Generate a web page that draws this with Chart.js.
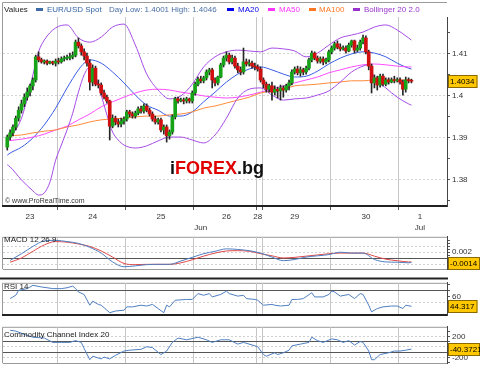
<!DOCTYPE html>
<html><head><meta charset="utf-8">
<script src="https://cdn.jsdelivr.net/npm/chart.js@4.4.1/dist/chart.umd.min.js"></script>
<style>
html,body{margin:0;padding:0;background:#fff}
body{position:relative;width:480px;height:370px;overflow:hidden;font-family:"Liberation Sans",Arial,sans-serif}
canvas{position:absolute;left:0}
.t{position:absolute;font-size:8px;line-height:9px;white-space:nowrap;color:#222}
.m{position:absolute;width:7px;height:3px;top:8px}
#wm{position:absolute;left:170px;top:158px;font-weight:bold;font-size:18px;line-height:20px;white-space:nowrap;color:#111}
#wm span{color:#e00000}
</style></head><body>
<canvas id="cMain" width="480" height="232" style="top:0"></canvas>
<canvas id="cMacd" width="480" height="46" style="top:230px"></canvas>
<canvas id="cRsi" width="480" height="46" style="top:276px"></canvas>
<canvas id="cCci" width="480" height="50" style="top:320px"></canvas>

<div class="t" style="left:4px;top:5px">Values</div>
<div class="m" style="left:36px;background:#3d6aa8"></div>
<div class="t" style="left:47px;top:5px;color:#3364a6">EUR/USD Spot</div>
<div class="t" style="left:109px;top:5px;color:#4a6ea6">Day Low: 1.4001 High: 1.4046</div>
<div class="m" style="left:227px;background:#0000ee"></div>
<div class="t" style="left:238px;top:5px;color:#0000ee">MA20</div>
<div class="m" style="left:268px;background:#ff33ff"></div>
<div class="t" style="left:279px;top:5px;color:#ff33ff">MA50</div>
<div class="m" style="left:309px;background:#ff7722"></div>
<div class="t" style="left:319px;top:5px;color:#ff7722">MA100</div>
<div class="m" style="left:353px;background:#9933cc"></div>
<div class="t" style="left:364px;top:5px;color:#9933cc">Bollinger 20 2.0</div>
<div id="wm">i<span>FOREX</span>.bg</div>
<div class="t" style="left:5px;top:197px;font-size:7px;line-height:8px;color:#333">© www.ProRealTime.com</div>
<div class="t" style="left:4px;top:235px">MACD 12 26 9</div>
<div class="t" style="left:4px;top:282px">RSI 14</div>
<div class="t" style="left:4px;top:330px">Commodity Channel Index 20</div>

<script>
// ---------- categories (hourly slots) ----------
const dayNames=['23','24','25','26','28','29','30','1'];
const dayFirstHour=[5,0,0,0,22,0,0,0];
const dayHourCount=[19,24,24,22,2,24,24,17];
const xTickSlots=[9,31,55,78,89,102,127,146];
const monthSlots=[69,146];
const monthNames=['Jun','Jul'];

// ---------- candles (first bar = 23 06:00) ----------
const firstCandleSlot=1;
const open=[1.3877,1.3901,1.3911,1.3925,1.3946,1.3965,1.3980,1.3996,1.4008,1.4023,
1.4037,1.4092,1.4085,1.4080,1.4082,1.4077,1.4080,1.4077,1.4082,1.4080,
1.4087,1.4089,1.4089,1.4092,1.4096,1.4127,1.4118,1.4104,1.4094,1.4077,
1.4032,1.4065,1.4027,1.4025,1.4006,1.3996,1.3987,1.3927,1.3946,1.3937,
1.3932,1.3939,1.3944,1.3961,1.3956,1.3951,1.3958,1.3968,1.3963,1.3975,
1.3965,1.3956,1.3944,1.3937,1.3942,1.3918,1.3925,1.3904,1.3913,1.3949,
1.3992,1.3987,1.3989,1.3987,1.3992,1.3987,1.4006,1.4027,1.4039,1.4035,
1.4042,1.4056,1.4061,1.4037,1.4030,1.4044,1.4073,1.4089,1.4096,1.4080,
1.4089,1.4070,1.4061,1.4056,1.4080,1.4075,1.4077,1.4070,1.4068,1.4063,
1.4037,1.4027,1.4015,1.4023,1.4008,1.4015,1.4011,1.4018,1.4013,1.4023,
1.4030,1.4056,1.4063,1.4054,1.4061,1.4056,1.4065,1.4085,1.4101,1.4089,
1.4082,1.4087,1.4080,1.4085,1.4104,1.4113,1.4123,1.4115,1.4111,1.4113,
1.4106,1.4120,1.4130,1.4108,1.4113,1.4127,1.4137,1.4104,1.4070,1.4030,
1.4042,1.4025,1.4046,1.4027,1.4037,1.4032,1.4037,1.4035,1.4037,1.4032,
1.4015,1.4037,1.4035];
const high=[1.3906,1.3918,1.3930,1.3951,1.3973,1.3989,1.4004,1.4018,1.4027,1.4042,
1.4096,1.4104,1.4089,1.4085,1.4085,1.4082,1.4082,1.4087,1.4089,1.4092,
1.4094,1.4096,1.4101,1.4104,1.4132,1.4137,1.4123,1.4111,1.4101,1.4085,
1.4073,1.4070,1.4037,1.4030,1.4013,1.4001,1.3989,1.3954,1.3951,1.3944,
1.3946,1.3949,1.3965,1.3965,1.3961,1.3963,1.3973,1.3975,1.3980,1.3980,
1.3970,1.3961,1.3951,1.3946,1.3946,1.3930,1.3930,1.3918,1.3954,1.3996,
1.3996,1.3994,1.3994,1.3996,1.3994,1.4011,1.4032,1.4044,1.4046,1.4046,
1.4061,1.4065,1.4065,1.4042,1.4046,1.4077,1.4094,1.4104,1.4101,1.4096,
1.4094,1.4077,1.4068,1.4113,1.4087,1.4085,1.4082,1.4077,1.4073,1.4068,
1.4042,1.4032,1.4027,1.4032,1.4023,1.4020,1.4025,1.4023,1.4027,1.4037,
1.4061,1.4068,1.4070,1.4068,1.4065,1.4070,1.4089,1.4106,1.4104,1.4094,
1.4092,1.4092,1.4089,1.4108,1.4118,1.4127,1.4130,1.4123,1.4118,1.4118,
1.4125,1.4132,1.4132,1.4120,1.4132,1.4144,1.4142,1.4108,1.4075,1.4049,
1.4046,1.4051,1.4051,1.4042,1.4042,1.4042,1.4046,1.4042,1.4042,1.4037,
1.4044,1.4042,1.4039];
const low=[1.3870,1.3894,1.3904,1.3918,1.3939,1.3958,1.3973,1.3989,1.3999,1.4013,
1.4032,1.4080,1.4077,1.4075,1.4073,1.4075,1.4073,1.4070,1.4075,1.4077,
1.4082,1.4085,1.4085,1.4087,1.4092,1.4113,1.4096,1.4085,1.4070,1.4013,
1.4023,1.4023,1.4018,1.4001,1.3992,1.3982,1.3894,1.3923,1.3930,1.3925,
1.3925,1.3932,1.3939,1.3949,1.3946,1.3946,1.3954,1.3958,1.3958,1.3961,
1.3951,1.3939,1.3932,1.3932,1.3913,1.3908,1.3889,1.3896,1.3908,1.3944,
1.3982,1.3985,1.3980,1.3982,1.3982,1.3982,1.4001,1.4023,1.4030,1.4030,
1.4037,1.4049,1.4018,1.4023,1.4025,1.4042,1.4068,1.4082,1.4075,1.4075,
1.4065,1.4054,1.4049,1.4051,1.4070,1.4070,1.4065,1.4061,1.4058,1.4032,
1.4018,1.4008,1.4008,1.3989,1.4001,1.3994,1.3989,1.3996,1.4008,1.4013,
1.4025,1.4051,1.4049,1.4046,1.4049,1.4051,1.4061,1.4080,1.4085,1.4077,
1.4077,1.4073,1.4075,1.4080,1.4099,1.4108,1.4111,1.4106,1.4108,1.4101,
1.4104,1.4115,1.4101,1.4104,1.4108,1.4123,1.4099,1.4061,1.4006,1.4018,
1.4013,1.4020,1.4023,1.4023,1.4027,1.4030,1.4030,1.4032,1.4027,1.4001,
1.4008,1.4030,1.4030];
const close=[1.3901,1.3911,1.3925,1.3946,1.3965,1.3980,1.3996,1.4008,1.4023,1.4037,
1.4092,1.4085,1.4080,1.4082,1.4077,1.4080,1.4077,1.4082,1.4080,1.4087,
1.4089,1.4090,1.4092,1.4096,1.4127,1.4118,1.4104,1.4094,1.4077,1.4032,
1.4065,1.4027,1.4025,1.4006,1.3996,1.3987,1.3927,1.3946,1.3937,1.3932,
1.3939,1.3944,1.3961,1.3956,1.3951,1.3958,1.3968,1.3963,1.3975,1.3965,
1.3956,1.3944,1.3937,1.3942,1.3918,1.3925,1.3904,1.3913,1.3949,1.3992,
1.3987,1.3989,1.3987,1.3992,1.3987,1.4006,1.4027,1.4039,1.4035,1.4042,
1.4056,1.4061,1.4037,1.4030,1.4044,1.4073,1.4089,1.4096,1.4080,1.4089,
1.4070,1.4061,1.4056,1.4080,1.4075,1.4077,1.4070,1.4068,1.4063,1.4037,
1.4027,1.4015,1.4023,1.4008,1.4015,1.4011,1.4018,1.4013,1.4023,1.4030,
1.4056,1.4063,1.4054,1.4061,1.4056,1.4065,1.4085,1.4101,1.4089,1.4082,
1.4087,1.4080,1.4085,1.4104,1.4113,1.4123,1.4115,1.4111,1.4113,1.4106,
1.4120,1.4130,1.4108,1.4113,1.4127,1.4137,1.4104,1.4070,1.4030,1.4042,
1.4025,1.4046,1.4027,1.4037,1.4032,1.4037,1.4035,1.4037,1.4032,1.4015,
1.4037,1.4035,1.4034];

// ---------- overlays (read at sampled slots) ----------
const ma20Slots=[1,2,6,10,14,18,22,26,28,30,34,38,42,46,50,54,58,62,66,70,74,78,82,86,90,94,98,102,106,110,114,118,122,126,130,134,138,142,143];
const ma20Vals=[1.3858,1.3863,1.3877,1.3899,1.3930,1.3970,1.4018,1.4061,1.4077,1.4085,1.4077,1.4056,1.4030,1.4001,1.3977,1.3965,1.3951,1.3951,1.3961,1.3985,1.4008,1.4032,1.4051,1.4063,1.4068,1.4061,1.4051,1.4044,1.4046,1.4058,1.4075,1.4089,1.4099,1.4104,1.4101,1.4092,1.4077,1.4065,1.4063];
const maSlots=[1,6,10,14,18,22,26,30,34,38,42,46,50,54,58,62,66,70,74,78,82,86,90,94,98,102,106,110,114,118,122,126,130,134,138,142,143];
const ma50Vals=[1.3892,1.3896,1.3901,1.3908,1.3918,1.3927,1.3942,1.3956,1.3973,1.3985,1.3996,1.4006,1.4013,1.4015,1.4013,1.4008,1.4004,1.3999,1.3996,1.3994,1.3996,1.4001,1.4008,1.4015,1.4023,1.4030,1.4037,1.4044,1.4054,1.4061,1.4068,1.4073,1.4075,1.4073,1.4070,1.4068,1.4068];
const ma100Vals=[1.3904,1.3906,1.3911,1.3915,1.3918,1.3925,1.3930,1.3937,1.3942,1.3944,1.3946,1.3949,1.3951,1.3951,1.3954,1.3956,1.3961,1.3970,1.3975,1.3982,1.3989,1.3996,1.4006,1.4011,1.4015,1.4023,1.4025,1.4027,1.4030,1.4032,1.4035,1.4035,1.4037,1.4037,1.4037,1.4037,1.4037];
const bbUpSlots=[1,2,6,10,12,14,18,22,26,30,34,38,42,46,50,54,58,62,66,70,74,78,82,86,90,94,98,102,106,110,114,118,122,126,130,134,138,142,143];
const bbUpVals=[1.3894,1.3901,1.3946,1.4049,1.4104,1.4132,1.4161,1.4168,1.4137,1.4127,1.4139,1.4163,1.4170,1.4120,1.4051,1.4013,1.3992,1.3999,1.4027,1.4068,1.4092,1.4104,1.4108,1.4106,1.4104,1.4113,1.4111,1.4106,1.4092,1.4101,1.4120,1.4137,1.4144,1.4151,1.4163,1.4168,1.4156,1.4137,1.4132];
const bbLoSlots=[1,2,6,10,12,14,16,18,20,22,24,26,28,30,32,34,36,38,40,42,46,50,54,58,62,66,70,74,78,82,86,90,94,98,102,106,110,114,118,122,126,128,130,134,138,142,143];
const bbLoVals=[1.3835,1.3830,1.3799,1.3773,1.3763,1.3768,1.3794,1.3846,1.3882,1.3918,1.3958,1.4008,1.4049,1.4068,1.4046,1.4001,1.3954,1.3913,1.3894,1.3882,1.3875,1.3880,1.3892,1.3901,1.3901,1.3894,1.3887,1.3906,1.3946,1.3994,1.4015,1.4018,1.4001,1.3989,1.3992,1.3994,1.4001,1.4011,1.4032,1.4056,1.4070,1.4073,1.4042,1.4018,1.3996,1.3980,1.3977];

// ---------- MACD ----------
const macdSlots=[2,6,10,14,18,22,26,30,34,38,42,46,50,54,58,62,66,70,74,78,82,86,90,94,98,102,106,110,114,118,122,126,130,134,138,142,143];
const macdVals=[-0.0007,0.0015,0.0039,0.0057,0.0059,0.0055,0.0049,0.0036,0.0017,-0.0012,-0.0028,-0.0025,-0.0021,-0.0020,-0.0020,-0.0009,0.0003,0.0015,0.0023,0.0031,0.0029,0.0025,0.0017,0.0004,-0.0008,-0.0004,0.0004,0.0008,0.0012,0.0020,0.0017,0.0017,-0.0004,-0.0012,-0.0013,-0.0015,-0.0014];
const signalVals=[-0.0013,0.0001,0.0023,0.0044,0.0055,0.0053,0.0047,0.0039,0.0024,0.0004,-0.0017,-0.0021,-0.0020,-0.0020,-0.0020,-0.0015,-0.0005,0.0007,0.0017,0.0024,0.0025,0.0023,0.0015,0.0008,0.0001,0.0003,0.0007,0.0011,0.0015,0.0017,0.0017,0.0017,0.0007,-0.0003,-0.0008,-0.0012,-0.0012];

// ---------- RSI ----------
const rsiSlots=[2,4,5,8,10,13,15,17,20,22,24,25,26,28,30,31,33,34,35,37,39,42,43,45,48,50,52,54,56,57,58,60,64,66,68,70,72,73,76,78,79,82,84,85,88,89,91,94,95,97,100,101,103,105,108,109,112,114,115,116,118,121,123,125,126,128,129,131,133,136,138,140,141,143];
const rsiVals=[56.9,62.3,70.4,73.1,78.5,75.8,74.5,73.1,73.1,74.5,77.2,73.1,67.7,63.6,46.1,52.8,47.4,46.1,42.1,33.9,36.6,38.0,43.4,43.4,46.1,44.8,47.4,40.7,33.9,46.1,43.4,54.2,55.5,55.5,65.0,62.3,65.0,59.6,63.6,69.1,65.0,60.9,62.3,56.9,55.5,54.2,46.1,47.4,46.1,44.8,46.1,55.5,55.5,56.9,66.4,59.6,59.6,63.6,69.1,67.7,60.9,63.6,56.9,65.0,63.6,46.1,35.3,40.7,43.4,44.8,44.8,40.7,46.1,44.317];

// ---------- CCI ----------
const cciSlots=[2,4,8,10,14,17,20,23,25,27,28,30,31,34,35,37,39,42,44,48,50,52,55,57,59,61,64,68,71,73,76,79,82,84,88,89,91,92,95,96,98,100,101,104,107,108,110,112,115,117,119,121,123,125,126,128,129,130,132,135,137,139,141,143];
const cciVals=[322,305,222,188,172,88,88,88,122,88,-28,-245,-178,-228,-195,-228,-162,-78,-62,-45,5,-12,-145,-78,88,172,138,188,138,88,138,138,55,88,22,5,-145,-178,-112,-145,-112,-62,22,55,88,188,122,88,155,138,88,122,38,105,88,-78,-245,-245,-145,-112,-78,-78,-62,-40.3721];

// ---------- build ----------
const categories=[];
dayNames.forEach((d,i)=>{for(let h=0;h<dayHourCount[i];h++)categories.push(d+' '+(dayFirstHour[i]+h)+':00');});
const boundaries=[];{let c=0;dayHourCount.forEach((n,i)=>{if(i>0)boundaries.push(c);c+=n;});}
const N=categories.length;
function full(slots,vals){const a=new Array(N).fill(null);slots.forEach((s,i)=>{a[s]=vals[i];});return a;}
const cSlots=open.map((_,i)=>firstCandleSlot+i);
const wickData=full(cSlots,open.map((_,i)=>[low[i],high[i]]));
const bodyData=full(cSlots,open.map((o,i)=>[o,close[i]]));
const bodyCol=full(cSlots,open.map((o,i)=>close[i]>=o?'#17a317':'#d01010'));

const FONT='"Liberation Sans", Arial, sans-serif';
const near=(a,b)=>Math.abs(a-b)<1e-9;
const isB=c=>boundaries.includes(c.index);

const framePlugin={id:'frame',beforeDraw(chart,args,o){
  const {ctx,chartArea:a}=chart;ctx.save();ctx.strokeStyle=o.color||'#9a9a9a';ctx.lineWidth=1;
  const top=(o.top!=null?o.top:a.top+0.5);
  ctx.beginPath();ctx.moveTo(2.5,a.bottom);ctx.lineTo(2.5,top);ctx.lineTo(a.right,top);ctx.stroke();
  if(o.sep!=null){ctx.strokeStyle='#222';ctx.lineWidth=2;ctx.beginPath();ctx.moveTo(0,o.sep);ctx.lineTo(a.right+1,o.sep);ctx.stroke();}
  ctx.restore();}};
const boxPlugin={id:'vbox',afterDraw(chart,args,o){
  if(o.value==null)return;const {ctx,chartArea:a}=chart;const y=Math.round(chart.scales.y.getPixelForValue(o.value));
  ctx.save();ctx.font='8px '+FONT;const x=a.right+1;const w=Math.min(ctx.measureText(o.text).width+5,chart.width-x);
  ctx.fillStyle='#ffc800';ctx.fillRect(x,y-6,w,13);ctx.strokeStyle='#8a6a00';ctx.lineWidth=1;ctx.strokeRect(x+0.5,y-5.5,w-1,12);
  ctx.fillStyle='#000';ctx.textBaseline='middle';ctx.fillText(o.text,x+2,y+1);ctx.restore();}};

function xAxis(h,showLabels,bColor,bWidth){
  return {type:'category',offset:true,
    afterFit:s=>{s.height=h;},
    grid:{offset:true,drawTicks:showLabels,tickLength:4,lineWidth:1,
      color:c=>isB(c)?'#c6c6c6':'rgba(0,0,0,0)',tickColor:c=>isB(c)?'#555':'rgba(0,0,0,0)'},
    border:{color:bColor,width:bWidth},
    ticks:showLabels?{autoSkip:false,maxRotation:0,minRotation:0,padding:1,color:'#333',
      font:{size:8,family:FONT,lineHeight:1.4},
      callback:(v,i)=>{const d=xTickSlots.indexOf(i),m=monthSlots.indexOf(i);
        if(d<0&&m<0)return '';const a=d>=0?dayNames[d]:'';return m>=0?[a,monthNames[m]]:a;}}
      :{display:false}};
}
function yAxis(min,max,tickVals,labelFn,gridFn,dashFn){
  return {type:'linear',position:'right',min,max,
    afterBuildTicks:s=>{s.ticks=tickVals.map(v=>({value:v}));},
    afterFit:s=>{s.width=33;},
    ticks:{autoSkip:false,padding:2,color:'#333',font:{size:8,family:FONT},callback:v=>labelFn(v)},
    grid:{drawTicks:true,tickLength:3,lineWidth:1,tickColor:'#555',
      color:c=>c.tick?gridFn(c.tick.value):'rgba(0,0,0,0)'},
    border:{color:'#444',width:1,dash:c=>c.tick?dashFn(c.tick.value):[]}};
}
const lineDs=(data,color,extra)=>Object.assign({type:'line',data,borderColor:color,borderWidth:1,pointRadius:0,
  spanGaps:true,cubicInterpolationMode:'monotone',fill:false,order:5},extra||{});
const common={responsive:false,animation:false,devicePixelRatio:1,events:[],
  plugins:{legend:{display:false},tooltip:{enabled:false}}};

// ---- main price chart ----
const priceTicks=[1.375,1.38,1.385,1.39,1.395,1.40,1.405,1.41,1.415];
const isMajorP=v=>near(Math.round(v*100)/100,v);
new Chart(document.getElementById('cMain'),{type:'bar',
  data:{labels:categories,datasets:[
    lineDs(full(bbUpSlots,bbUpVals),'#a64ce6'),
    lineDs(full(bbLoSlots,bbLoVals),'#a64ce6'),
    lineDs(full(maSlots,ma100Vals),'#ff8a3a'),
    lineDs(full(maSlots,ma50Vals),'#ff4cff'),
    lineDs(full(ma20Slots,ma20Vals),'#3a5ce6'),
    {type:'bar',data:wickData,backgroundColor:'#262626',barThickness:1,grouped:false,order:1},
    {type:'bar',data:bodyData,backgroundColor:bodyCol,barThickness:3,minBarLength:1,grouped:false,order:0}
  ]},
  options:Object.assign({},common,{
    layout:{padding:{left:3,top:17,right:0,bottom:0}},
    scales:{x:xAxis(26,true,'#222',2),
      y:yAxis(1.37369,1.41869,priceTicks,v=>isMajorP(v)?String(+v.toFixed(3)):'',
        v=>isMajorP(v)?'#d4d4d4':'rgba(0,0,0,0)',v=>[2,2])},
    plugins:Object.assign({},common.plugins,{frame:{top:2.5},vbox:{value:close[close.length-1],text:close[close.length-1].toFixed(4)}})
  }),
  plugins:[framePlugin,boxPlugin]});

// ---- MACD ----
new Chart(document.getElementById('cMacd'),{type:'line',
  data:{labels:categories,datasets:[
    lineDs(full(macdSlots,signalVals),'#e04848'),
    lineDs(full(macdSlots,macdVals),'#4f7fc0',{order:4})]},
  options:Object.assign({},common,{
    layout:{padding:{left:3,top:3,right:0,bottom:0}},
    scales:{x:xAxis(3,false,'#9a9a9a',1),
      y:yAxis(-0.0036,0.00707,[-0.003,-0.002,-0.001,0,0.001,0.002,0.003,0.004,0.005,0.006],
        v=>near(v,0.002)?'0.002':'',
        v=>near(v,0)?'#555':((near(v,0.002)||near(v,-0.002)||near(v,0.004))?'#d0d0d0':'rgba(0,0,0,0)'),
        v=>near(v,0)?[]:[2,2])},
    plugins:Object.assign({},common.plugins,{frame:{},vbox:{value:macdVals[macdVals.length-1],text:macdVals[macdVals.length-1].toFixed(4)}})
  }),
  plugins:[framePlugin,boxPlugin]});

// ---- RSI ----
new Chart(document.getElementById('cRsi'),{type:'line',
  data:{labels:categories,datasets:[lineDs(full(rsiSlots,rsiVals),'#4f7fc0',{cubicInterpolationMode:'default',tension:0})]},
  options:Object.assign({},common,{
    layout:{padding:{left:3,top:5,right:0,bottom:0}},
    scales:{x:xAxis(2,false,'#222',2),
      y:yAxis(29.86,82.57,[40,50,60,70,80],v=>near(v,60)?'60':'',
        v=>near(v,70)?'#555':(near(v,50)?'#d0d0d0':'rgba(0,0,0,0)'),v=>near(v,70)?[]:[2,2])},
    plugins:Object.assign({},common.plugins,{frame:{sep:2.5},vbox:{value:rsiVals[rsiVals.length-1],text:rsiVals[rsiVals.length-1].toFixed(3)}})
  }),
  plugins:[framePlugin,boxPlugin]});

// ---- CCI ----
new Chart(document.getElementById('cCci'),{type:'line',
  data:{labels:categories,datasets:[lineDs(full(cciSlots,cciVals),'#4f7fc0',{cubicInterpolationMode:'default',tension:0})]},
  options:Object.assign({},common,{
    layout:{padding:{left:3,top:5,right:0,bottom:0}},
    scales:{x:xAxis(3,false,'#9a9a9a',1),
      y:yAxis(-312,388,[-300,-200,-100,0,100,200,300],v=>(near(v,200)||near(v,-200))?String(v):'',
        v=>(near(v,100)||near(v,-100))?'#555':((near(v,0)||near(v,200)||near(v,-200))?'#d0d0d0':'rgba(0,0,0,0)'),
        v=>(near(v,100)||near(v,-100))?[]:[2,2])},
    plugins:Object.assign({},common.plugins,{frame:{},vbox:{value:cciVals[cciVals.length-1],text:cciVals[cciVals.length-1].toFixed(4)}})
  }),
  plugins:[framePlugin,boxPlugin]});
</script>
</body></html>
